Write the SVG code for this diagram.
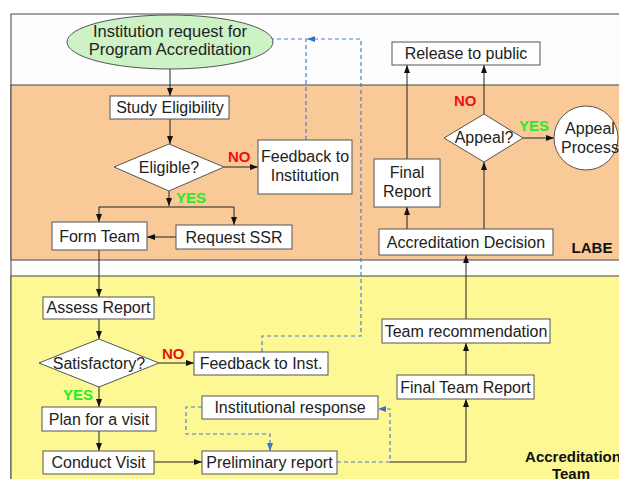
<svg xmlns="http://www.w3.org/2000/svg" width="619" height="479" viewBox="0 0 619 479">
<defs>
<marker id="ah" viewBox="0 0 8 6" refX="8" refY="3" markerWidth="8" markerHeight="6" markerUnits="userSpaceOnUse" orient="auto"><path d="M0,0 L8,3 L0,6 z" fill="#111"/></marker>
<marker id="ahb" viewBox="0 0 8 6" refX="8" refY="3" markerWidth="8" markerHeight="6" markerUnits="userSpaceOnUse" orient="auto"><path d="M0,0 L8,3 L0,6 z" fill="#3a6fd0"/></marker>
<style>
.box{fill:#fff;stroke:#555;stroke-width:1}
.t{font-family:"Liberation Sans",Arial,sans-serif;font-size:16px;fill:#222;text-anchor:middle}
.no{font-family:"Liberation Sans",Arial,sans-serif;font-size:15px;font-weight:bold;fill:#ee1111}
.yes{font-family:"Liberation Sans",Arial,sans-serif;font-size:15px;font-weight:bold;fill:#22ee22}
.lab{font-family:"Liberation Sans",Arial,sans-serif;font-size:15px;font-weight:bold;fill:#111;text-anchor:middle}
.c{fill:none;stroke:#222;stroke-width:1;marker-end:url(#ah)}
.cl{fill:none;stroke:#222;stroke-width:1}
.d{fill:none;stroke:#4a7fd6;stroke-width:1.2;stroke-dasharray:4,3;marker-end:url(#ahb)}
.dl{fill:none;stroke:#4a7fd6;stroke-width:1.2;stroke-dasharray:4,3}
</style>
</defs>
<rect x="0" y="0" width="619" height="479" fill="#fff"/>
<g id="lanes">
<rect x="11" y="14" width="620" height="480" fill="#fdfdfd" stroke="#444" stroke-width="1"/>
<rect x="11" y="85" width="620" height="175" fill="#f9c998" stroke="#444" stroke-width="1"/>
<rect x="11" y="276" width="620" height="220" fill="#fdf794" stroke="#444" stroke-width="1"/>
<text class="lab" x="592" y="253">LABE</text>
<text class="lab" x="573" y="462">Accreditation</text>
<text class="lab" x="571" y="479">Team</text>
</g>
<g id="connectors">
<path class="c" d="M170,69 V96"/>
<path class="c" d="M170,119 V144"/>
<path class="c" d="M224,167 H258"/>
<path class="c" d="M169,191 V206"/>
<path class="c" d="M169,207 H99 V222"/>
<path class="c" d="M169,207 H234 V225"/>
<path class="c" d="M176,237 H147"/>
<path class="c" d="M99,250 V297"/>
<path class="c" d="M99,319 V339"/>
<path class="c" d="M159,363 H194"/>
<path class="c" d="M99,387 V407"/>
<path class="c" d="M99,431 V451"/>
<path class="c" d="M154,462 H202"/>
<path class="c" d="M390,462 H466 V399"/>
<path class="c" d="M466,375 V343"/>
<path class="c" d="M466,319 V255"/>
<path class="c" d="M407,229 V207"/>
<path class="c" d="M407,159 V65"/>
<path class="c" d="M484,229 V162"/>
<path class="c" d="M484,114 V65"/>
<path class="c" d="M523,138 H554"/>
<path class="d" d="M202,407 H186 V434 H270 V451"/>
<path class="d" d="M337,462 H390 V409 H378"/>
<path class="d" d="M262,352 V336 H361 V39 H307"/>
<path class="d" d="M306,140 V39 H259"/>
<text class="no" x="228" y="162">NO</text>
<text class="yes" x="176" y="203">YES</text>
<text class="no" x="162" y="359">NO</text>
<text class="yes" x="63" y="400">YES</text>
<text class="no" x="454" y="106">NO</text>
<text class="yes" x="519" y="131">YES</text>
</g>
<g id="n-request"><ellipse cx="170" cy="42" rx="103" ry="27" fill="#ccf2c6" stroke="#555"/><text class="t" style="font-size:16.5px" x="170" y="37">Institution request for</text><text class="t" style="font-size:16.5px" x="170" y="55">Program Accreditation</text></g>
<g id="n-study"><rect class="box" x="110" y="96" width="119" height="23"/><text class="t" x="170" y="113">Study Eligibility</text></g>
<g id="n-eligible"><polygon class="box" points="114,167 169,144 224,167 169,191"/><text class="t" x="169" y="173">Eligible?</text></g>
<g id="n-feedback1"><rect class="box" x="258" y="140" width="94" height="54"/><text class="t" x="305" y="162">Feedback to</text><text class="t" x="305" y="181">Institution</text></g>
<g id="n-formteam"><rect class="box" x="52" y="222" width="95" height="28"/><text class="t" x="99.5" y="242">Form Team</text></g>
<g id="n-ssr"><rect class="box" x="176" y="225" width="116" height="24"/><text class="t" x="234" y="243">Request SSR</text></g>
<g id="n-assess"><rect class="box" x="43" y="297" width="111" height="22"/><text class="t" x="98.5" y="313">Assess Report</text></g>
<g id="n-satisfactory"><polygon class="box" points="39,363 99,339 159,363 99,387"/><text class="t" x="99" y="369">Satisfactory?</text></g>
<g id="n-feedback2"><rect class="box" x="194" y="352" width="134" height="23"/><text class="t" x="261" y="369">Feedback to Inst.</text></g>
<g id="n-plan"><rect class="box" x="42" y="407" width="114" height="24"/><text class="t" x="99" y="425">Plan for a visit</text></g>
<g id="n-conduct"><rect class="box" x="43" y="451" width="111" height="23"/><text class="t" x="98.5" y="468">Conduct Visit</text></g>
<g id="n-prelim"><rect class="box" x="202" y="451" width="135" height="23"/><text class="t" x="269.5" y="468">Preliminary report</text></g>
<g id="n-instresp"><rect class="box" x="202" y="396" width="176" height="23"/><text class="t" x="290" y="413">Institutional response</text></g>
<g id="n-finalteam"><rect class="box" x="397" y="375" width="137" height="24"/><text class="t" x="465.5" y="393">Final Team Report</text></g>
<g id="n-teamrec"><rect class="box" x="382" y="319" width="168" height="24"/><text class="t" x="466" y="337">Team recommendation</text></g>
<g id="n-decision"><rect class="box" x="379" y="229" width="174" height="26"/><text class="t" x="466" y="248">Accreditation Decision</text></g>
<g id="n-finalreport"><rect class="box" x="374" y="159" width="66" height="48"/><text class="t" x="407" y="178">Final</text><text class="t" x="407" y="197">Report</text></g>
<g id="n-release"><rect class="box" x="392" y="42" width="148" height="23"/><text class="t" x="466" y="59">Release to public</text></g>
<g id="n-appeal"><polygon class="box" points="444,138 484,114 523,138 484,162"/><text class="t" x="484" y="143">Appeal?</text></g>
<g id="n-process"><circle class="box" cx="586" cy="138" r="32"/><text class="t" x="590" y="134">Appeal</text><text class="t" x="590" y="153">Process</text></g>
</svg>
